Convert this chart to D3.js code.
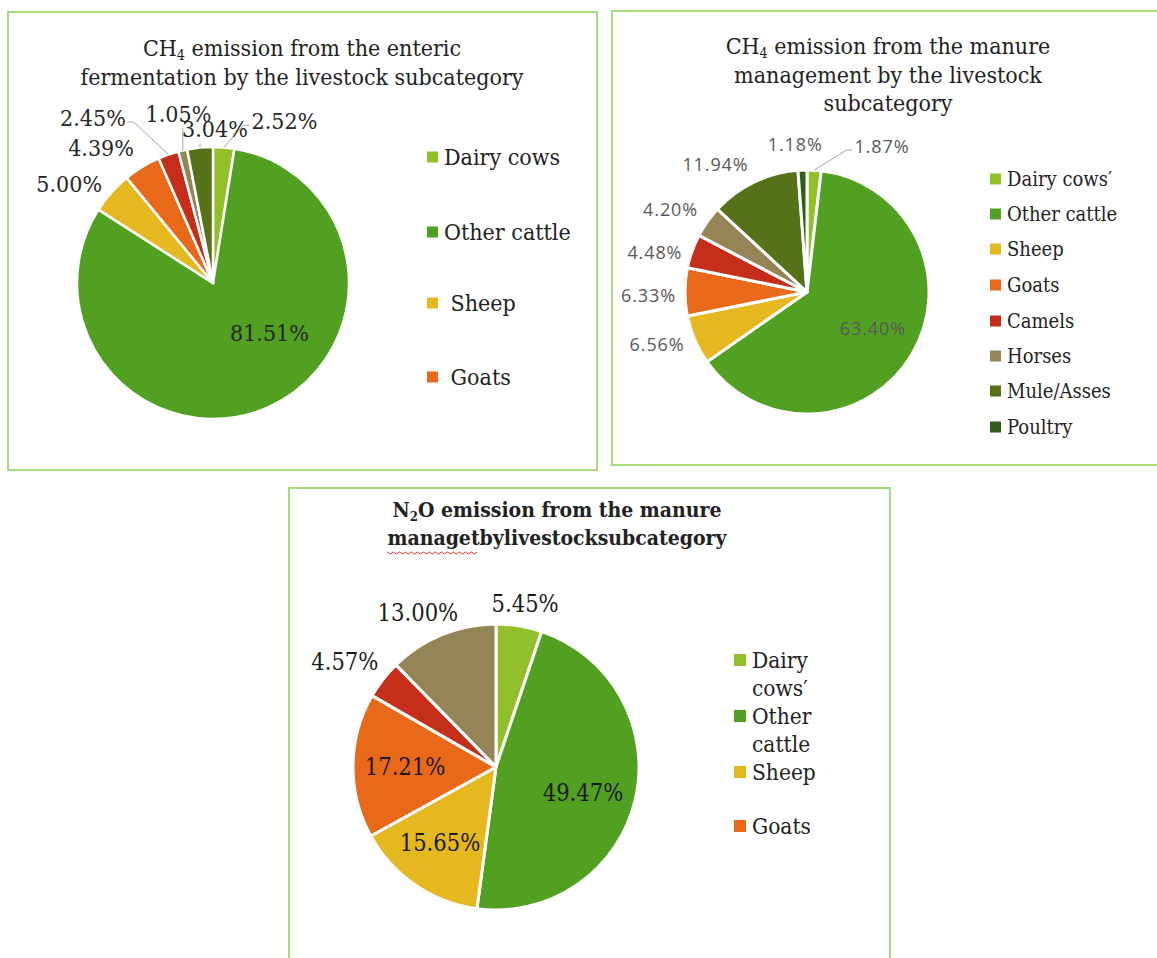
<!DOCTYPE html>
<html>
<head>
<meta charset="utf-8">
<script src="https://cdn.jsdelivr.net/npm/d3@7"></script>
<style>
  html, body { margin: 0; padding: 0; background: #fff; }
  svg { display: block; }
</style>
</head>
<body>
<svg id="chart" width="1157" height="958"></svg>
<script>
// ---------- data ----------
const categories = ["Dairy cows", "Other cattle", "Sheep", "Goats", "Camels", "Horses", "Mule/Asses", "Poultry"];
const entericValues = [2.52, 81.51, 5.00, 4.39, 2.45, 1.05, 3.04];
const manureCH4Values = [1.87, 63.40, 6.56, 6.33, 4.48, 4.20, 11.94, 1.18];
const manureN2OValues = [5.45, 49.47, 15.65, 17.21, 4.57, 13.00];

const legend1Labels = [["Dairy cows"], ["Other cattle"], [" Sheep"], [" Goats"]];
const legend2Labels = [["Dairy cows\u2032"], ["Other cattle"], ["Sheep"], ["Goats"], ["Camels"], ["Horses"], ["Mule/Asses"], ["Poultry"]];
const legend3Labels = [["Dairy", "cows\u2032"], ["Other", "cattle"], ["Sheep"], ["Goats"]];

const title1 = [["CH", "4", " emission from the enteric"], ["fermentation by the livestock subcategory"]];
const title2 = [["CH", "4", " emission from the manure"], ["management by the livestock"], ["subcategory"]];
const title3 = [["N", "2", "O emission from the manure"], ["managetbylivestocksubcategory"]];

// ---------- styles / layout ----------
const palette = ["#92c02a", "#52a022", "#e6b820", "#e8691a", "#c62e1c", "#948456", "#557219", "#2f5c18"];
const borderColor = "#9dd870";
const serif = "'DejaVu Serif Condensed', 'DejaVu Serif', serif";

// label placement: [angle shift from slice middle (deg), radius factor, leader line]
const layout1 = [[19.3, 1.30, true], [-24.5, 0.553, false], [-7, 1.285, false], [-8.2, 1.29, false], [-16.9, 1.50, true], [1.3, 1.27, true], [6.2, 1.13, true]];
const layout2 = [[23.8, 1.345, true], [-2.2, 0.616, false], [4.1, 1.30, false], [-1.1, 1.30, false], [-4.7, 1.29, false], [-3.8, 1.31, false], [-9.8, 1.29, false], [-2.4, 1.22, false]];
const layout3 = [[0.8, 1.16, false], [3.5, 0.635, false], [2, 0.66, false], [-0.6, 0.636, false], [-3, 1.287, false], [-4.7, 1.207, false]];

const svg = d3.select("#chart");

function panel(x0, y0, x1, y1) {
  svg.append("rect").attr("x", x0).attr("y", y0).attr("width", x1 - x0).attr("height", y1 - y0)
    .attr("fill", "#fff").attr("stroke", borderColor).attr("stroke-width", 1.8);
}

function title(lines, cx, y0, lh, size, weight) {
  const g = svg.append("g");
  lines.forEach((ln, i) => {
    const t = g.append("text").attr("x", cx).attr("y", y0 + i * lh)
      .attr("text-anchor", "middle").attr("font-family", serif)
      .attr("font-size", size).attr("font-weight", weight).attr("fill", "#222");
    if (ln.length === 3) {
      t.append("tspan").text(ln[0]);
      t.append("tspan").attr("font-size", size * 0.62).attr("dy", 4).text(ln[1]);
      t.append("tspan").attr("dy", -4).text(ln[2]);
    } else {
      t.text(ln[0]);
    }
  });
  return g;
}

function pie(values, cx, cy, r, layout, labelFont, labelSize, labelColor, strokeW, spacing) {
  const g = svg.append("g").attr("transform", `translate(${cx},${cy})`);
  const arcs = d3.pie().sort(null).value(d => d)(values);
  const arc = d3.arc().innerRadius(0).outerRadius(r);
  g.selectAll("path.slice").data(arcs).join("path")
    .attr("class", "slice")
    .attr("d", arc)
    .attr("fill", (d, i) => palette[i])
    .attr("stroke", "#fff").attr("stroke-width", strokeW).attr("stroke-linejoin", "round");

  arcs.forEach((d, i) => {
    const mid = (d.startAngle + d.endAngle) / 2;
    const [da, rf, leader] = layout[i];
    const a = mid + da * Math.PI / 180;
    const lx = Math.sin(a) * r * rf, ly = -Math.cos(a) * r * rf;
    const txt = g.append("text").attr("x", lx).attr("y", ly)
      .attr("text-anchor", "middle").attr("dominant-baseline", "central")
      .attr("font-family", labelFont).attr("font-size", labelSize)
      .attr("letter-spacing", spacing)
      .attr("fill", labelColor)
      .text(d3.format(".2f")(values[i]) + "%");
    if (leader) {
      const bb = txt.node().getBBox();
      const sx = Math.sin(mid) * r, sy = -Math.cos(mid) * r;
      let pts;
      if (sx > bb.x && sx < bb.x + bb.width) {
        pts = [[sx, sy], [sx, bb.y + bb.height + 1]];
      } else if (sx < bb.x) {
        const ey = ly + 4;
        pts = [[sx, sy], [bb.x - 8, ey], [bb.x - 2, ey]];
      } else {
        const ey = ly + 4;
        const ex = bb.x + bb.width;
        pts = [[sx, sy], [ex + 8, ey], [ex + 2, ey]];
      }
      g.insert("path", "text").attr("d", d3.line()(pts)).attr("fill", "none")
        .attr("stroke", "#a6a6a6").attr("stroke-width", 1);
    }
  });
  return g;
}

function legend(labels, x, ys, size, sq, lineH) {
  const g = svg.append("g");
  labels.forEach((lab, i) => {
    const y = ys[i];
    g.append("rect").attr("x", x).attr("y", y - sq / 2).attr("width", sq).attr("height", sq)
      .attr("fill", palette[i]);
    lab.forEach((s, j) => {
      g.append("text").attr("x", x + sq + 6).attr("y", y + j * lineH)
        .attr("dominant-baseline", "central")
        .attr("font-family", serif).attr("font-size", size).attr("fill", "#222")
        .attr("xml:space", "preserve")
        .text(s);
    });
  });
}

// ---------- panel 1 ----------
panel(8, 12, 597, 470);
title(title1, 302, 56, 29, 23, "normal");
pie(entericValues, 213, 283, 136, layout1, serif, 23, "#262626", 2.5, 0);
legend(legend1Labels, 427, [157, 232, 303, 377], 23, 11, 0);

// ---------- panel 2 ----------
panel(612, 11, 1180, 465);
title(title2, 888, 54, 28.5, 23, "normal");
pie(manureCH4Values, 807, 292, 122, layout2, "'Open Sans', 'Noto Sans', sans-serif", 18, "#595959", 3, 0.9);
legend(legend2Labels, 990, [179, 214, 249, 285, 321, 356, 391, 427], 20, 11, 0);

// ---------- panel 3 ----------
panel(289, 488, 890, 990);
const t3 = title(title3, 557, 517, 28, 21, "bold");
pie(manureN2OValues, 496, 767, 143, layout3, serif, 23.5, "#1a1a1a", 3, 0);
legend(legend3Labels, 734, [660, 716, 772, 826], 22.5, 12, 28);

// red spell-check squiggle under "managet"
(function () {
  const tn = t3.selectAll("text").nodes()[1];
  const p0 = tn.getStartPositionOfChar(0);
  const w = tn.getSubStringLength(0, 7);
  const yb = p0.y + 7;
  const pts = d3.range(0, Math.floor(w / 3) + 1).map(k => [p0.x + k * 3, yb + (k % 2 ? 2 : 0)]);
  svg.append("path").attr("d", d3.line()(pts)).attr("fill", "none")
    .attr("stroke", "#e0302a").attr("stroke-width", 1);
})();
</script>
</body>
</html>
